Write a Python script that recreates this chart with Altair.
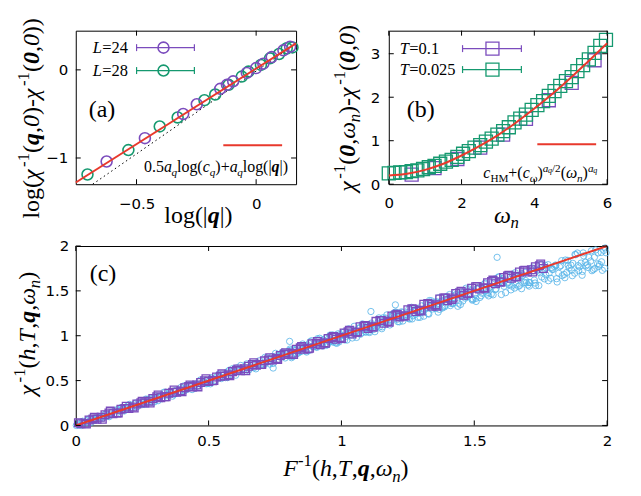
import altair as alt
import pandas as pd

# ---------------- data: panel (a) ----------------
a_L24_x = [-0.625, -0.465, -0.305, -0.248, -0.150, -0.122, -0.096, -0.039, 0.000, 0.030, 0.065, 0.114, 0.142]
a_L24_y = [-1.040, -0.775, -0.500, -0.390, -0.215, -0.170, -0.130, -0.035, 0.020, 0.070, 0.145, 0.222, 0.262]
a_L28_x = [-0.705, -0.534, -0.403, -0.328, -0.216, -0.171, -0.115, -0.060, -0.032, 0.020, 0.058, 0.096, 0.128, 0.152]
a_L28_y = [-1.187, -0.910, -0.642, -0.540, -0.344, -0.280, -0.170, -0.076, -0.020, 0.056, 0.131, 0.180, 0.245, 0.255]
a_fit_x = [-0.754, 0.167]
a_fit_y = [-1.278, 0.301]
a_guide_x = [-0.683, 0.167]
a_guide_y = [-1.297, 0.300]
a_xticks = [-0.5, 0]
a_yticks = [-1, 0]

# ---------------- data: panel (b) ----------------
b_T01_x = [0.628, 1.257, 1.885, 2.513, 3.142, 3.770, 4.398, 5.027, 5.655]
b_T01_y = [0.22, 0.37, 0.58, 0.84, 1.14, 1.50, 1.93, 2.33, 2.85]
b_T0025_x = [0.000, 0.157, 0.314, 0.471, 0.628, 0.785, 0.942, 1.100, 1.257, 1.414,
             1.571, 1.728, 1.885, 2.042, 2.199, 2.356, 2.513, 2.670, 2.827, 2.985,
             3.142, 3.299, 3.456, 3.613, 3.770, 3.927, 4.084, 4.241, 4.398, 4.555,
             4.712, 4.869, 5.027, 5.184, 5.341, 5.498, 5.655, 5.812, 5.969]
b_T0025_y = [0.25, 0.26, 0.27, 0.28, 0.30, 0.32, 0.35, 0.39, 0.42, 0.47,
             0.52, 0.56, 0.63, 0.70, 0.76, 0.84, 0.90, 0.98, 1.05, 1.14,
             1.22, 1.31, 1.42, 1.51, 1.60, 1.71, 1.82, 1.91, 2.03, 2.14,
             2.26, 2.37, 2.46, 2.60, 2.74, 2.87, 3.02, 3.18, 3.32]
b_fit_x = [0, 0.5, 1, 1.5, 2, 2.5, 3, 3.5, 4, 4.5, 5, 5.5, 6]
b_fit_y = [0.20, 0.24, 0.33, 0.47, 0.66, 0.88, 1.13, 1.42, 1.74, 2.08, 2.45, 2.84, 3.24]
b_xticks = [0, 2, 4, 6]
b_yticks = [0, 1, 2, 3]

# ---------------- data: panel (c) ----------------
c_circ_x = [0.007, 0.012, 0.026, 0.038, 0.043, 0.057, 0.064, 0.078, 0.082, 0.096,
            0.107, 0.112, 0.126, 0.138, 0.143, 0.157, 0.164, 0.178, 0.182, 0.196,
            0.207, 0.212, 0.226, 0.238, 0.243, 0.257, 0.264, 0.278, 0.282, 0.296,
            0.307, 0.312, 0.326, 0.338, 0.343, 0.357, 0.364, 0.378, 0.382, 0.396,
            0.407, 0.412, 0.426, 0.438, 0.443, 0.457, 0.464, 0.478, 0.482, 0.496,
            0.507, 0.512, 0.526, 0.538, 0.543, 0.557, 0.564, 0.578, 0.582, 0.596,
            0.607, 0.612, 0.626, 0.638, 0.643, 0.657, 0.664, 0.678, 0.682, 0.696,
            0.707, 0.712, 0.726, 0.738, 0.743, 0.757, 0.764, 0.778, 0.782, 0.796,
            0.807, 0.812, 0.826, 0.838, 0.843, 0.857, 0.864, 0.878, 0.882, 0.896,
            0.907, 0.912, 0.926, 0.938, 0.943, 0.957, 0.964, 0.978, 0.982, 0.996,
            1.007, 1.012, 1.026, 1.038, 1.043, 1.057, 1.064, 1.078, 1.082, 1.096,
            1.107, 1.112, 1.126, 1.138, 1.143, 1.157, 1.164, 1.178, 1.182, 1.196,
            1.207, 1.212, 1.226, 1.238, 1.243, 1.257, 1.264, 1.278, 1.282, 1.296,
            1.307, 1.312, 1.326, 1.338, 1.343, 1.357, 1.364, 1.378, 1.382, 1.396,
            1.407, 1.412, 1.426, 1.438, 1.443, 1.457, 1.464, 1.478, 1.482, 1.496,
            1.507, 1.512, 1.526, 1.538, 1.543, 1.557, 1.564, 1.578, 1.582, 1.596,
            1.607, 1.612, 1.626, 1.638, 1.643, 1.657, 1.664, 1.678, 1.682, 1.696,
            1.707, 1.712, 1.726, 1.738, 1.743, 1.757, 1.764, 1.778, 1.782, 1.796,
            1.807, 1.812, 1.826, 1.838, 1.843, 1.857, 1.864, 1.878, 1.882, 1.896,
            1.907, 1.912, 1.926, 1.938, 1.943, 1.957, 1.964, 1.978, 1.982, 1.996,
            0.002, 0.010, 0.021, 0.031, 0.048, 0.052, 0.069, 0.071, 0.088, 0.091,
            0.102, 0.110, 0.121, 0.131, 0.148, 0.152, 0.169, 0.171, 0.188, 0.191,
            0.202, 0.210, 0.221, 0.231, 0.248, 0.252, 0.269, 0.271, 0.288, 0.291,
            0.302, 0.310, 0.321, 0.331, 0.348, 0.352, 0.369, 0.371, 0.388, 0.391,
            0.402, 0.410, 0.421, 0.431, 0.448, 0.452, 0.469, 0.471, 0.488, 0.491,
            0.502, 0.510, 0.521, 0.531, 0.548, 0.552, 0.569, 0.571, 0.588, 0.591,
            0.602, 0.610, 0.621, 0.631, 0.648, 0.652, 0.669, 0.671, 0.688, 0.691,
            0.702, 0.710, 0.721, 0.731, 0.748, 0.752, 0.769, 0.771, 0.788, 0.791,
            0.802, 0.810, 0.821, 0.831, 0.848, 0.852, 0.869, 0.871, 0.888, 0.891,
            0.902, 0.910, 0.921, 0.931, 0.948, 0.952, 0.969, 0.971, 0.988, 0.991,
            1.002, 1.010, 1.021, 1.031, 1.048, 1.052, 1.069, 1.071, 1.088, 1.091,
            1.102, 1.110, 1.121, 1.131, 1.148, 1.152, 1.169, 1.171, 1.188, 1.191,
            1.202, 1.210, 1.221, 1.231, 1.248, 1.252, 1.269, 1.271, 1.288, 1.291,
            1.302, 1.310, 1.321, 1.331, 1.348, 1.352, 1.369, 1.371, 1.388, 1.391,
            1.402, 1.410, 1.421, 1.431, 1.448, 1.452, 1.469, 1.471, 1.488, 1.491,
            1.502, 1.510, 1.521, 1.531, 1.548, 1.552, 1.569, 1.571, 1.588, 1.591,
            1.602, 1.610, 1.621, 1.631, 1.648, 1.652, 1.669, 1.671, 1.688, 1.691,
            1.702, 1.710, 1.721, 1.731, 1.748, 1.752, 1.769, 1.771, 1.788, 1.791,
            1.802, 1.810, 1.821, 1.831, 1.848, 1.852, 1.869, 1.871, 1.888, 1.891,
            1.902, 1.910, 1.921, 1.931, 1.948, 1.952, 1.969, 1.971, 1.988, 1.991,
            0.806, 0.818, 0.829, 0.841, 0.854, 0.866, 0.879, 0.893,
            0.906, 0.918, 0.929, 0.941, 0.954, 0.966, 0.979, 0.993,
            1.006, 1.018, 1.029, 1.041, 1.054, 1.066, 1.079, 1.093,
            1.106, 1.118, 1.129, 1.141, 1.154, 1.166, 1.179, 1.193,
            1.206, 1.218, 1.229, 1.241, 1.254, 1.266, 1.279, 1.293,
            1.306, 1.318, 1.329, 1.341, 1.354, 1.366, 1.379, 1.393,
            1.406, 1.418, 1.429, 1.441, 1.454, 1.466, 1.479, 1.493,
            1.506, 1.518, 1.529, 1.541, 1.554, 1.566, 1.579, 1.593,
            1.606, 1.618, 1.629, 1.641, 1.654, 1.666, 1.679, 1.693,
            1.706, 1.718, 1.729, 1.741, 1.754, 1.766, 1.779, 1.793,
            1.806, 1.818, 1.829, 1.841, 1.854, 1.866, 1.879, 1.893,
            1.906, 1.918, 1.929, 1.941, 1.954, 1.966, 1.979, 1.993,
            1.586, 1.203, 1.111, 0.805, 0.743]
c_circ_y = [0.010, 0.003, 0.047, 0.031, 0.056, 0.033, 0.073, 0.066, 0.100, 0.094,
            0.098, 0.127, 0.098, 0.149, 0.128, 0.178, 0.161, 0.181, 0.161, 0.222,
            0.219, 0.195, 0.251, 0.235, 0.247, 0.233, 0.294, 0.268, 0.300, 0.263,
            0.303, 0.316, 0.298, 0.372, 0.331, 0.377, 0.326, 0.392, 0.362, 0.424,
            0.441, 0.400, 0.446, 0.400, 0.457, 0.437, 0.492, 0.474, 0.486, 0.468,
            0.464, 0.528, 0.504, 0.570, 0.539, 0.562, 0.533, 0.616, 0.569, 0.619,
            0.642, 0.607, 0.631, 0.603, 0.686, 0.642, 0.689, 0.631, 0.700, 0.671,
            0.669, 0.759, 0.710, 0.766, 0.691, 0.776, 0.737, 0.817, 0.777, 0.802,
            0.837, 0.755, 0.847, 0.808, 0.885, 0.851, 0.870, 0.836, 0.933, 0.878,
            0.870, 0.953, 0.915, 0.940, 0.893, 1.007, 0.940, 1.006, 0.915, 1.014,
            1.004, 0.953, 1.076, 1.007, 1.068, 0.981, 1.079, 1.033, 1.121, 1.079,
            1.075, 1.140, 1.045, 1.154, 1.096, 1.200, 1.147, 1.176, 1.120, 1.250,
            1.220, 1.157, 1.267, 1.215, 1.236, 1.186, 1.317, 1.239, 1.307, 1.205,
            1.279, 1.301, 1.247, 1.390, 1.298, 1.380, 1.263, 1.388, 1.320, 1.436,
            1.459, 1.360, 1.446, 1.328, 1.450, 1.387, 1.502, 1.444, 1.466, 1.408,
            1.382, 1.517, 1.446, 1.578, 1.503, 1.537, 1.464, 1.633, 1.522, 1.616,
            1.634, 1.551, 1.587, 1.511, 1.687, 1.574, 1.669, 1.524, 1.671, 1.591,
            1.553, 1.744, 1.620, 1.728, 1.559, 1.729, 1.634, 1.792, 1.700, 1.738,
            1.782, 1.599, 1.782, 1.683, 1.844, 1.754, 1.787, 1.697, 1.903, 1.767,
            1.717, 1.890, 1.792, 1.832, 1.725, 1.956, 1.802, 1.928, 1.729, 1.925,
            0.000, 0.025, 0.000, 0.036, 0.072, 0.048, 0.080, 0.055, 0.096, 0.077,
            0.083, 0.119, 0.105, 0.119, 0.166, 0.127, 0.175, 0.200, 0.184, 0.205,
            0.235, 0.205, 0.237, 0.208, 0.259, 0.233, 0.255, 0.292, 0.258, 0.298,
            0.326, 0.276, 0.329, 0.369, 0.342, 0.370, 0.343, 0.383, 0.366, 0.375,
            0.414, 0.388, 0.405, 0.455, 0.414, 0.460, 0.507, 0.465, 0.506, 0.465,
            0.495, 0.530, 0.492, 0.545, 0.523, 0.534, 0.596, 0.533, 0.597, 0.634,
            0.560, 0.620, 0.669, 0.624, 0.671, 0.620, 0.684, 0.644, 0.668, 0.721,
            0.672, 0.688, 0.754, 0.684, 0.759, 0.804, 0.761, 0.796, 0.752, 0.808,
            0.829, 0.771, 0.839, 0.798, 0.824, 0.888, 0.818, 0.883, 0.945, 0.882,
            0.910, 0.967, 0.906, 0.955, 0.901, 0.967, 0.928, 0.940, 1.022, 0.931,
            0.964, 1.042, 0.952, 1.035, 1.105, 1.032, 1.091, 1.016, 1.099, 1.043,
            1.043, 1.123, 1.070, 1.091, 1.183, 1.078, 1.174, 1.232, 1.167, 1.215,
            1.263, 1.183, 1.242, 1.164, 1.257, 1.193, 1.222, 1.304, 1.205, 1.292,
            1.333, 1.218, 1.318, 1.392, 1.315, 1.370, 1.294, 1.377, 1.321, 1.337,
            1.404, 1.336, 1.360, 1.460, 1.347, 1.445, 1.530, 1.433, 1.504, 1.408,
            1.457, 1.525, 1.426, 1.531, 1.463, 1.482, 1.599, 1.456, 1.578, 1.656,
            1.459, 1.582, 1.676, 1.565, 1.648, 1.531, 1.652, 1.561, 1.594, 1.707,
            1.566, 1.592, 1.723, 1.559, 1.702, 1.796, 1.681, 1.755, 1.640, 1.757,
            1.771, 1.636, 1.770, 1.670, 1.706, 1.840, 1.669, 1.807, 1.922, 1.782,
            1.810, 1.923, 1.780, 1.874, 1.737, 1.874, 1.772, 1.795, 1.952, 1.752,
            0.851, 0.770, 0.838, 0.820, 0.908, 0.830, 0.912, 0.878,
            0.878, 0.972, 0.885, 0.972, 0.933, 1.010, 0.922, 0.998,
            1.035, 0.991, 1.072, 0.975, 1.055, 1.032, 1.132, 1.041,
            1.036, 1.119, 1.093, 1.199, 1.099, 1.197, 1.150, 1.239,
            1.263, 1.155, 1.258, 1.206, 1.299, 1.187, 1.276, 1.250,
            1.265, 1.362, 1.241, 1.334, 1.304, 1.423, 1.308, 1.420,
            1.395, 1.362, 1.485, 1.362, 1.479, 1.419, 1.522, 1.396,
            1.416, 1.543, 1.474, 1.586, 1.444, 1.551, 1.514, 1.653,
            1.639, 1.480, 1.596, 1.553, 1.703, 1.550, 1.690, 1.616,
            1.594, 1.756, 1.587, 1.737, 1.654, 1.786, 1.613, 1.741,
            1.788, 1.696, 1.837, 1.647, 1.784, 1.731, 1.906, 1.725,
            1.674, 1.819, 1.760, 1.947, 1.750, 1.923, 1.824, 1.978,
            1.874, 1.344, 1.270, 0.937, 0.640]
c_sq_x = [0.02, 0.05, 0.08, 0.11, 0.14, 0.17, 0.20, 0.23, 0.26, 0.29, 0.32, 0.35, 0.38, 0.41, 0.44,
          0.47, 0.50, 0.53, 0.56, 0.59, 0.62, 0.65, 0.68, 0.71, 0.74, 0.77, 0.80, 0.83, 0.86, 0.89,
          0.92, 0.95, 0.98, 1.01, 1.04, 1.07, 1.10, 1.13, 1.16, 1.19, 1.22, 1.25, 1.28, 1.31, 1.34,
          1.37, 1.40, 1.43, 1.46, 1.49, 1.52, 1.55, 1.58, 1.61, 1.64, 1.67, 1.70, 1.73, 1.76,
          0.035, 0.065, 0.095, 0.125, 0.155, 0.185, 0.215, 0.245, 0.275, 0.305, 0.335, 0.365,
          0.395, 0.425, 0.455, 0.485, 0.515, 0.545, 0.575, 0.605, 0.635, 0.665, 0.695, 0.725,
          0.755, 0.785, 0.815, 0.845, 0.875, 0.905, 0.935, 0.965, 0.995, 1.025, 1.055, 1.085,
          1.115, 1.145, 1.175, 1.205, 1.235, 1.265, 1.295, 1.325, 1.355, 1.385, 1.415, 1.445,
          1.475, 1.505, 1.535, 1.565, 1.595, 1.625, 1.655, 1.685, 1.715, 1.745,
          0.01, 0.04, 0.07, 0.10, 0.13, 0.16, 0.19, 0.22, 0.25, 0.28, 0.31, 0.34, 0.37, 0.40, 0.43,
          0.46, 0.49, 0.52, 0.55, 0.58, 0.61, 0.64, 0.67, 0.70, 0.73, 0.76, 0.79, 0.82, 0.85, 0.88,
          0.91, 0.94, 0.97, 1.00, 1.03, 1.06, 1.09, 1.12, 1.15, 1.18, 1.21, 1.24, 1.27, 1.30, 1.33,
          1.36, 1.39, 1.42, 1.45, 1.48, 1.51, 1.54, 1.57, 1.60, 1.63, 1.66, 1.69, 1.72, 1.75]
c_sq_y = [0.02, 0.06, 0.07, 0.12, 0.13, 0.18, 0.19, 0.24, 0.25, 0.30, 0.31, 0.36, 0.37, 0.42, 0.43,
          0.48, 0.49, 0.54, 0.55, 0.60, 0.61, 0.66, 0.67, 0.72, 0.73, 0.78, 0.79, 0.85, 0.85, 0.91,
          0.90, 0.97, 0.96, 1.03, 1.02, 1.10, 1.08, 1.16, 1.14, 1.22, 1.21, 1.29, 1.27, 1.35, 1.33,
          1.41, 1.39, 1.47, 1.45, 1.53, 1.52, 1.59, 1.58, 1.65, 1.64, 1.71, 1.71, 1.77, 1.75,
          0.025, 0.073, 0.091, 0.139, 0.139, 0.189, 0.205, 0.253, 0.271, 0.319, 0.319, 0.369,
          0.385, 0.433, 0.451, 0.499, 0.499, 0.549, 0.565, 0.613, 0.631, 0.679, 0.679, 0.729,
          0.745, 0.795, 0.805, 0.865, 0.855, 0.915, 0.920, 0.980, 0.980, 1.045, 1.040, 1.105,
          1.100, 1.170, 1.160, 1.230, 1.220, 1.300, 1.285, 1.360, 1.345, 1.420, 1.405, 1.480,
          1.470, 1.545, 1.535, 1.605, 1.600, 1.665, 1.660, 1.725, 1.735, 1.780,
          0.030, 0.015, 0.090, 0.070, 0.160, 0.140, 0.215, 0.195, 0.270, 0.250, 0.340, 0.320, 0.395,
          0.375, 0.450, 0.430, 0.520, 0.500, 0.575, 0.555, 0.630, 0.610, 0.700, 0.680, 0.755, 0.735,
          0.810, 0.790, 0.880, 0.860, 0.935, 0.915, 0.990, 0.970, 1.060, 1.040, 1.115, 1.095, 1.170,
          1.150, 1.240, 1.220, 1.295, 1.275, 1.350, 1.330, 1.420, 1.420, 1.495, 1.475, 1.550, 1.530,
          1.620, 1.600, 1.675, 1.655, 1.730, 1.710, 1.800]
c_fit_x = [0, 2]
c_fit_y = [0, 2]
c_ticks = [0, 0.5, 1, 1.5, 2]

# ---------------- style ----------------
PURPLE = "#7b4cbd"
GREEN = "#15996f"
CYAN = "#56b4e9"
RED = "#e8392c"
SERIF = "Liberation Serif"
SANS = "DejaVu Sans"
ONE = pd.DataFrame({"k": [0]})

EM = {"0": .5, "1": .5, "2": .5, "4": .5, "5": .5, "8": .5, ".": .25, ",": .25, "(": .333, ")": .333,
      "|": .2, "-": .333, "+": .564, "=": .564, "/": .278, "a": .47, "c": .444, "g": .5, "h": .5,
      "l": .278, "o": .5, "q": .5, "n": .5, "F": .611, "H": .722, "M": .889, "T": .58, "L": .58,
      "χ": .55, "ω": .69}


def rich(pieces, ax, ay, fs, align="left", vertical=False, color="black"):
    items = []
    for text, style, pos in pieces:
        size, shift = {"": (fs, 0.0), "sub": (0.7 * fs, -0.22 * fs),
                       "sup": (0.7 * fs, 0.42 * fs), "supsub": (0.5 * fs, 0.30 * fs)}[pos]
        w = sum(EM.get(ch, 0.5) for ch in text) * size
        items.append((text, style, size, shift, w))
    total = sum(it[4] for it in items)
    off = {"left": 0.0, "center": -total / 2, "right": -total}[align]
    layers = []
    for text, style, size, shift, w in items:
        if vertical:
            px, py = ax - shift, ay - off
        else:
            px, py = ax + off, ay - shift
        mk = dict(align="left", baseline="alphabetic", font=SERIF, fontSize=size, color=color)
        if "i" in style:
            mk["fontStyle"] = "italic"
        if "b" in style:
            mk["fontWeight"] = "bold"
        if vertical:
            mk["angle"] = 270
        layers.append(alt.Chart(ONE).mark_text(**mk).encode(
            x=alt.value(px), y=alt.value(py), text=alt.value(text)))
        off += w
    return layers


def enc_x(dom, ticks, pad):
    return alt.X("x:Q", scale=alt.Scale(domain=dom, nice=False, zero=False),
                 axis=alt.Axis(values=ticks, format="~g", title="", ticks=False, tickSize=0,
                               domain=False, grid=False, labelPadding=pad, labelFlush=False))


def enc_y(dom, ticks, pad):
    return alt.Y("y:Q", scale=alt.Scale(domain=dom, nice=False, zero=False),
                 axis=alt.Axis(values=ticks, format="~g", title="", ticks=False, tickSize=0,
                               domain=False, grid=False, labelPadding=pad, labelFlush=False))


def inner_ticks(xv, yv, W, H, ex, ey, L=5):
    dx = pd.DataFrame({"x": xv})
    dy = pd.DataFrame({"y": yv})
    r = dict(color="black", strokeWidth=1)
    return [
        alt.Chart(dx).mark_rule(**r).encode(x=ex, y=alt.value(H), y2=alt.value(H - L)),
        alt.Chart(dx).mark_rule(**r).encode(x=ex, y=alt.value(0), y2=alt.value(L)),
        alt.Chart(dy).mark_rule(**r).encode(y=ey, x=alt.value(0), x2=alt.value(L)),
        alt.Chart(dy).mark_rule(**r).encode(y=ey, x=alt.value(W), x2=alt.value(W - L)),
    ]


def errbar_legend(x1, x2, xm, y, color, shape, size, sw):
    r = dict(color=color, strokeWidth=1.2)
    return [
        alt.Chart(ONE).mark_rule(**r).encode(x=alt.value(x1), x2=alt.value(x2), y=alt.value(y)),
        alt.Chart(ONE).mark_rule(**r).encode(x=alt.value(x1), y=alt.value(y - 3.5), y2=alt.value(y + 3.5)),
        alt.Chart(ONE).mark_rule(**r).encode(x=alt.value(x2), y=alt.value(y - 3.5), y2=alt.value(y + 3.5)),
        alt.Chart(ONE).mark_point(shape=shape, filled=False, size=size, strokeWidth=sw, color=color,
                                  opacity=1).encode(x=alt.value(xm), y=alt.value(y)),
    ]


def frame_box(x1, x2, y1, y2):
    # invisible box that fixes the page extent of a row (layout helper, not data)
    return alt.Chart(ONE).mark_rect(opacity=0).encode(
        x=alt.value(x1), x2=alt.value(x2), y=alt.value(y1), y2=alt.value(y2))


TITLE_FS = 24
LEG_FS = 16.5

# ---------------- panel (a) ----------------
WA, HA = 221, 154
exa = enc_x([-0.754, 0.167], a_xticks, 12)
eya = enc_y([-1.2975, 0.4446], a_yticks, 8)
pts24 = pd.DataFrame({"x": a_L24_x, "y": a_L24_y})
pts28 = pd.DataFrame({"x": a_L28_x, "y": a_L28_y})
layers_a = [
    frame_box(-75, 566, -29, 205),
    alt.Chart(pd.DataFrame({"x": a_guide_x, "y": a_guide_y})).mark_line(
        color="black", strokeWidth=1, strokeDash=[1.5, 3]).encode(x=exa, y=eya),
    alt.Chart(pts28).mark_point(shape="circle", filled=False, size=120, strokeWidth=1.6,
                                color=GREEN, opacity=1).encode(x=exa, y=eya),
    alt.Chart(pts24).mark_point(shape="circle", filled=False, size=120, strokeWidth=1.6,
                                color=PURPLE, opacity=1).encode(x=exa, y=eya),
    alt.Chart(pd.DataFrame({"x": a_fit_x, "y": a_fit_y})).mark_line(
        color=RED, strokeWidth=2).encode(x=exa, y=eya),
]
layers_a += inner_ticks(a_xticks, a_yticks, WA, HA, exa, eya)
layers_a += errbar_legend(61, 119, 88, 17, PURPLE, "circle", 120, 1.6)
layers_a += errbar_legend(61, 119, 88, 40, GREEN, "circle", 120, 1.6)
layers_a += rich([("L", "i", ""), ("=24", "n", "")], 17, 22.5, LEG_FS)
layers_a += rich([("L", "i", ""), ("=28", "n", "")], 17, 45.5, LEG_FS)
layers_a += [alt.Chart(ONE).mark_rule(color=RED, strokeWidth=2).encode(
    x=alt.value(148), x2=alt.value(207), y=alt.value(115))]
layers_a += rich([("0.5", "n", ""), ("a", "i", ""), ("q", "i", "sub"), ("log(", "n", ""),
                  ("c", "i", ""), ("q", "i", "sub"), (")+", "n", ""), ("a", "i", ""),
                  ("q", "i", "sub"), ("log(|", "n", ""), ("q", "bi", ""), ("|)", "n", "")],
                 213, 142, 16, align="right")
layers_a += rich([("(a)", "n", "")], 13, 87, 24)
layers_a += rich([("log(", "n", ""), ("χ", "i", ""), ("-1", "n", "sup"), ("(", "n", ""),
                  ("q", "bi", ""), (",", "n", ""), ("0", "i", ""), (")-", "n", ""),
                  ("χ", "i", ""), ("-1", "n", "sup"), ("(", "n", ""), ("0", "bi", ""),
                  (",", "n", ""), ("0", "i", ""), ("))", "n", "")],
                 -37, 88, TITLE_FS, align="center", vertical=True)
layers_a += rich([("log(|", "n", ""), ("q", "bi", ""), ("|)", "n", "")], 123, 193, TITLE_FS,
                 align="center")
pa = alt.layer(*layers_a).properties(width=WA, height=HA)

# ---------------- panel (b) ----------------
WB, HB = 219, 154
exb = enc_x([0, 6], b_xticks, 11)
eyb = enc_y([0, 3.53], b_yticks, 9)
layers_b = [
    alt.Chart(pd.DataFrame({"x": b_T01_x, "y": b_T01_y})).mark_point(
        shape="square", filled=False, size=170, strokeWidth=1.3, color=PURPLE, opacity=1).encode(x=exb, y=eyb),
    alt.Chart(pd.DataFrame({"x": b_T0025_x, "y": b_T0025_y})).mark_point(
        shape="square", filled=False, size=170, strokeWidth=1.3, color=GREEN, opacity=1).encode(x=exb, y=eyb),
    alt.Chart(pd.DataFrame({"x": b_fit_x, "y": b_fit_y})).mark_line(
        color=RED, strokeWidth=2, interpolate="monotone").encode(x=exb, y=eyb),
]
layers_b += inner_ticks(b_xticks, b_yticks, WB, HB, exb, eyb)
layers_b += errbar_legend(74, 133, 104, 18, PURPLE, "square", 170, 1.3)
layers_b += errbar_legend(74, 133, 104, 39, GREEN, "square", 170, 1.3)
layers_b += rich([("T", "i", ""), ("=0.1", "n", "")], 11, 23.5, LEG_FS)
layers_b += rich([("T", "i", ""), ("=0.025", "n", "")], 11, 44.5, LEG_FS)
layers_b += [alt.Chart(ONE).mark_rule(color=RED, strokeWidth=2).encode(
    x=alt.value(149), x2=alt.value(208), y=alt.value(114))]
layers_b += rich([("c", "i", ""), ("HM", "n", "sub"), ("+(", "n", ""), ("c", "i", ""),
                  ("ω", "i", "sub"), (")", "n", ""), ("a", "i", "sup"), ("q", "i", "supsub"),
                  ("/2", "n", "sup"), ("(", "n", ""), ("ω", "i", ""), ("n", "i", "sub"),
                  (")", "n", ""), ("a", "i", "sup"), ("q", "i", "supsub")],
                 209, 148, 16, align="right")
layers_b += rich([("(b)", "n", "")], 18, 87, 24)
layers_b += rich([("χ", "i", ""), ("-1", "n", "sup"), ("(", "n", ""), ("0", "bi", ""),
                  (",", "n", ""), ("ω", "i", ""), ("n", "i", "sub"), (")-", "n", ""),
                  ("χ", "i", ""), ("-1", "n", "sup"), ("(", "n", ""), ("0", "bi", ""),
                  (",", "n", ""), ("0", "i", ""), (")", "n", "")],
                 -34, 78, TITLE_FS, align="center", vertical=True)
layers_b += rich([("ω", "i", ""), ("n", "i", "sub")], 118, 193, TITLE_FS, align="center")
pb = alt.layer(*layers_b).properties(width=WB, height=HB)

# ---------------- panel (c) ----------------
WC, HC = 533, 180
exc = enc_x([0, 2], c_ticks, 8)
eyc = enc_y([0, 2], c_ticks, 7)
layers_c = [
    frame_box(-75, 566, -9, 253),
    alt.Chart(pd.DataFrame({"x": c_circ_x, "y": c_circ_y})).mark_point(
        shape="circle", filled=False, size=40, strokeWidth=0.9, color=CYAN, opacity=0.9).encode(x=exc, y=eyc),
    alt.Chart(pd.DataFrame({"x": c_sq_x, "y": c_sq_y})).mark_point(
        shape="square", filled=False, size=60, strokeWidth=1.3, color=PURPLE, opacity=1).encode(x=exc, y=eyc),
    alt.Chart(pd.DataFrame({"x": c_fit_x, "y": c_fit_y})).mark_line(
        color=RED, strokeWidth=2).encode(x=exc, y=eyc),
]
layers_c += inner_ticks(c_ticks, c_ticks, WC, HC, exc, eyc)
layers_c += rich([("(c)", "n", "")], 14, 35, 24)
layers_c += rich([("χ", "i", ""), ("-1", "n", "sup"), ("(", "n", ""), ("h", "i", ""),
                  (",", "n", ""), ("T", "i", ""), (",", "n", ""), ("q", "bi", ""),
                  (",", "n", ""), ("ω", "i", ""), ("n", "i", "sub"), (")", "n", "")],
                 -41, 88, TITLE_FS, align="center", vertical=True)
layers_c += rich([("F", "i", ""), ("-1", "n", "sup"), ("(", "n", ""), ("h", "i", ""),
                  (",", "n", ""), ("T", "i", ""), (",", "n", ""), ("q", "bi", ""),
                  (",", "n", ""), ("ω", "i", ""), ("n", "i", "sub"), (")", "n", "")],
                 271, 231, TITLE_FS, align="center")
pc = alt.layer(*layers_c).properties(width=WC, height=HC)

top = alt.hconcat(pa, pb, spacing=93, bounds="flush")
chart = alt.vconcat(top, pc, spacing=0).properties(
    padding=0, autosize=alt.AutoSizeParams(type="pad"), background="white"
).configure_view(stroke="black", strokeWidth=1).configure_axis(
    labelFont=SANS, labelFontSize=15, labelColor="black")

chart.save("out.html", embed_options={"renderer": "svg", "actions": False})
